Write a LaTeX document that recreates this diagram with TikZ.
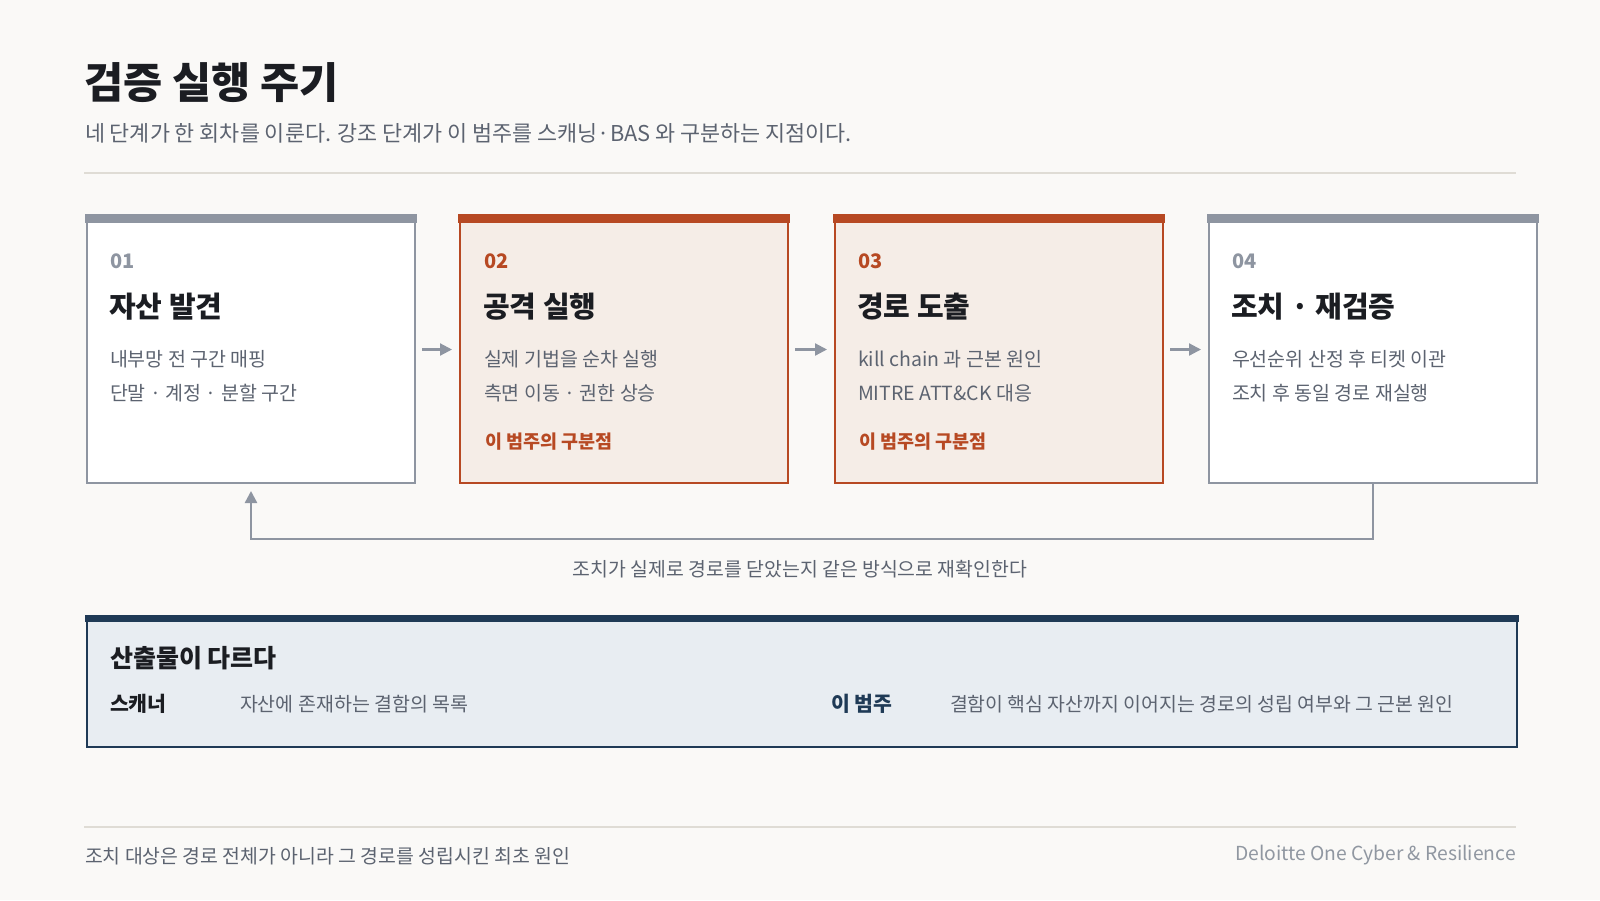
\documentclass[tikz,border=0pt]{standalone}
\usepackage{fontspec}
\setmainfont{Noto Sans CJK KR}
\usetikzlibrary{arrows.meta}
\definecolor{bg}{HTML}{FAF9F7}
\definecolor{ink}{HTML}{1B1D22}
\definecolor{body}{HTML}{5C6370}
\definecolor{gborder}{HTML}{8E95A1}
\definecolor{accent}{HTML}{B74923}
\definecolor{accfill}{HTML}{F5EDE7}
\definecolor{navy}{HTML}{1F3A56}
\definecolor{navyfill}{HTML}{E8EDF2}
\definecolor{rulec}{HTML}{DFDCD5}
\definecolor{foot}{HTML}{9097A1}
\tikzset{
  txt/.style={anchor=west, inner sep=0pt, outer sep=0pt},
  plainbox/.style={draw=gborder, fill=white, line width=2pt, minimum width=328pt, minimum height=267pt, inner sep=0pt, anchor=north west},
  hotbox/.style={draw=accent, fill=accfill, line width=2pt, minimum width=328pt, minimum height=267pt, inner sep=0pt, anchor=north west},
  numtxt/.style={txt, font=\fontsize{20}{24}\selectfont\bfseries},
  steptitle/.style={txt, text=ink, font=\fontsize{29}{35}\selectfont\bfseries},
  bodytxt/.style={txt, text=body, font=\fontsize{19.5}{23}\selectfont},
  keytxt/.style={txt, text=accent, font=\fontsize{18.5}{22}\selectfont\bfseries},
  arr/.style={draw=gborder, line width=2.2pt, -{Triangle[length=12pt,width=12pt]}},
}
\begin{document}
\begin{tikzpicture}[x=1pt,y=-1pt]
\useasboundingbox[fill=bg] (0,0) rectangle (1600,900);

% header
\node[txt, text=ink, font=\fontsize{42.6}{50}\selectfont\bfseries] (title) at (84,83) {검증 실행 주기};
\node[txt, text=body, font=\fontsize{21.8}{26}\selectfont] (sub) at (85,133) {네 단계가 한 회차를 이룬다. 강조 단계가 이 범주를 스캐닝·BAS 와 구분하는 지점이다.};
\coordinate (r1a) at (84,173); \coordinate (r1b) at (1516,173);
\draw[rulec, line width=1.5pt] (r1a) -- (r1b);

% boxes
\node[plainbox] (b1) at (86,215) {};
\node[hotbox]   (b2) at (459,215) {};
\node[hotbox]   (b3) at (834,215) {};
\node[plainbox] (b4) at (1208,215) {};
\fill[gborder] ([xshift=-1pt,yshift=1pt]b1.north west) rectangle ([xshift=1pt,yshift=-8pt]b1.north east);
\fill[accent]  ([xshift=-1pt,yshift=1pt]b2.north west) rectangle ([xshift=1pt,yshift=-8pt]b2.north east);
\fill[accent]  ([xshift=-1pt,yshift=1pt]b3.north west) rectangle ([xshift=1pt,yshift=-8pt]b3.north east);
\fill[gborder] ([xshift=-1pt,yshift=1pt]b4.north west) rectangle ([xshift=1pt,yshift=-8pt]b4.north east);

% box 1
\node[numtxt, text=gborder] (n1) at (110,261) {01};
\node[steptitle] (t1) at (109,307) {자산 발견};
\node[bodytxt] (l1a) at (110,359.5) {내부망 전 구간 매핑};
\node[bodytxt] (l1b) at (110,393) {단말 · 계정 · 분할 구간};
% box 2
\node[numtxt, text=accent] (n2) at (484,261) {02};
\node[steptitle] (t2) at (483,307) {공격 실행};
\node[bodytxt] (l2a) at (484,359.5) {실제 기법을 순차 실행};
\node[bodytxt] (l2b) at (484,393) {측면 이동 · 권한 상승};
\node[keytxt] (k2) at (485,442) {이 범주의 구분점};
% box 3
\node[numtxt, text=accent] (n3) at (858,261) {03};
\node[steptitle] (t3) at (857,307) {경로 도출};
\node[bodytxt] (l3a) at (858,359.5) {kill chain 과 근본 원인};
\node[bodytxt] (l3b) at (858,393) {MITRE ATT\&CK 대응};
\node[keytxt] (k3) at (859,442) {이 범주의 구분점};
% box 4
\node[numtxt, text=gborder] (n4) at (1232,261) {04};
\node[steptitle] (t4) at (1231,307) {조치 · 재검증};
\node[bodytxt] (l4a) at (1232,359.5) {우선순위 산정 후 티켓 이관};
\node[bodytxt] (l4b) at (1232,393) {조치 후 동일 경로 재실행};

% forward arrows
\draw[arr] ([xshift=6pt]b1.east) -- ([xshift=-7pt]b2.west);
\draw[arr] ([xshift=6pt]b2.east) -- ([xshift=-7pt]b3.west);
\draw[arr] ([xshift=6pt]b3.east) -- ([xshift=-7pt]b4.west);

% loop back
\coordinate (lp1) at (b4.south |- 0,539);
\coordinate (lp2) at (b1.south |- 0,539);
\draw[arr, line width=2.5pt] (b4.south) -- (lp1) -- (lp2) -- ([yshift=-7pt]b1.south);
\node[anchor=center, inner sep=0pt, text=body, font=\fontsize{19.4}{23}\selectfont] (loopl) at (800,569) {조치가 실제로 경로를 닫았는지 같은 방식으로 재확인한다};

% output box
\node[draw=navy, fill=navyfill, line width=2pt, minimum width=1430pt, minimum height=130pt, inner sep=0pt, anchor=north west] (ob) at (86,616) {};
\fill[navy] ([xshift=-1pt,yshift=1pt]ob.north west) rectangle ([xshift=1pt,yshift=-6pt]ob.north east);
\node[txt, text=ink, font=\fontsize{25}{30}\selectfont\bfseries] (ot) at (110,658) {산출물이 다르다};
\node[txt, text=ink, font=\fontsize{20.5}{24}\selectfont\bfseries] (o1k) at (110,704) {스캐너};
\node[txt, text=body, font=\fontsize{19.5}{23}\selectfont] (o1v) at (240,704) {자산에 존재하는 결함의 목록};
\node[txt, text=navy, font=\fontsize{20.5}{24}\selectfont\bfseries] (o2k) at (831,704) {이 범주};
\node[txt, text=body, font=\fontsize{19.4}{23}\selectfont] (o2v) at (950,704) {결함이 핵심 자산까지 이어지는 경로의 성립 여부와 그 근본 원인};

% footer
\coordinate (r2a) at (84,827); \coordinate (r2b) at (1516,827);
\draw[rulec, line width=1.5pt] (r2a) -- (r2b);
\node[txt, text=body, font=\fontsize{19.4}{23}\selectfont] (fl) at (85,856) {조치 대상은 경로 전체가 아니라 그 경로를 성립시킨 최초 원인};
\node[anchor=east, inner sep=0pt, text=foot, font=\fontsize{19.3}{23}\selectfont] (fr) at (1516,855) {Deloitte One Cyber \& Resilience};
\end{tikzpicture}
\end{document}
